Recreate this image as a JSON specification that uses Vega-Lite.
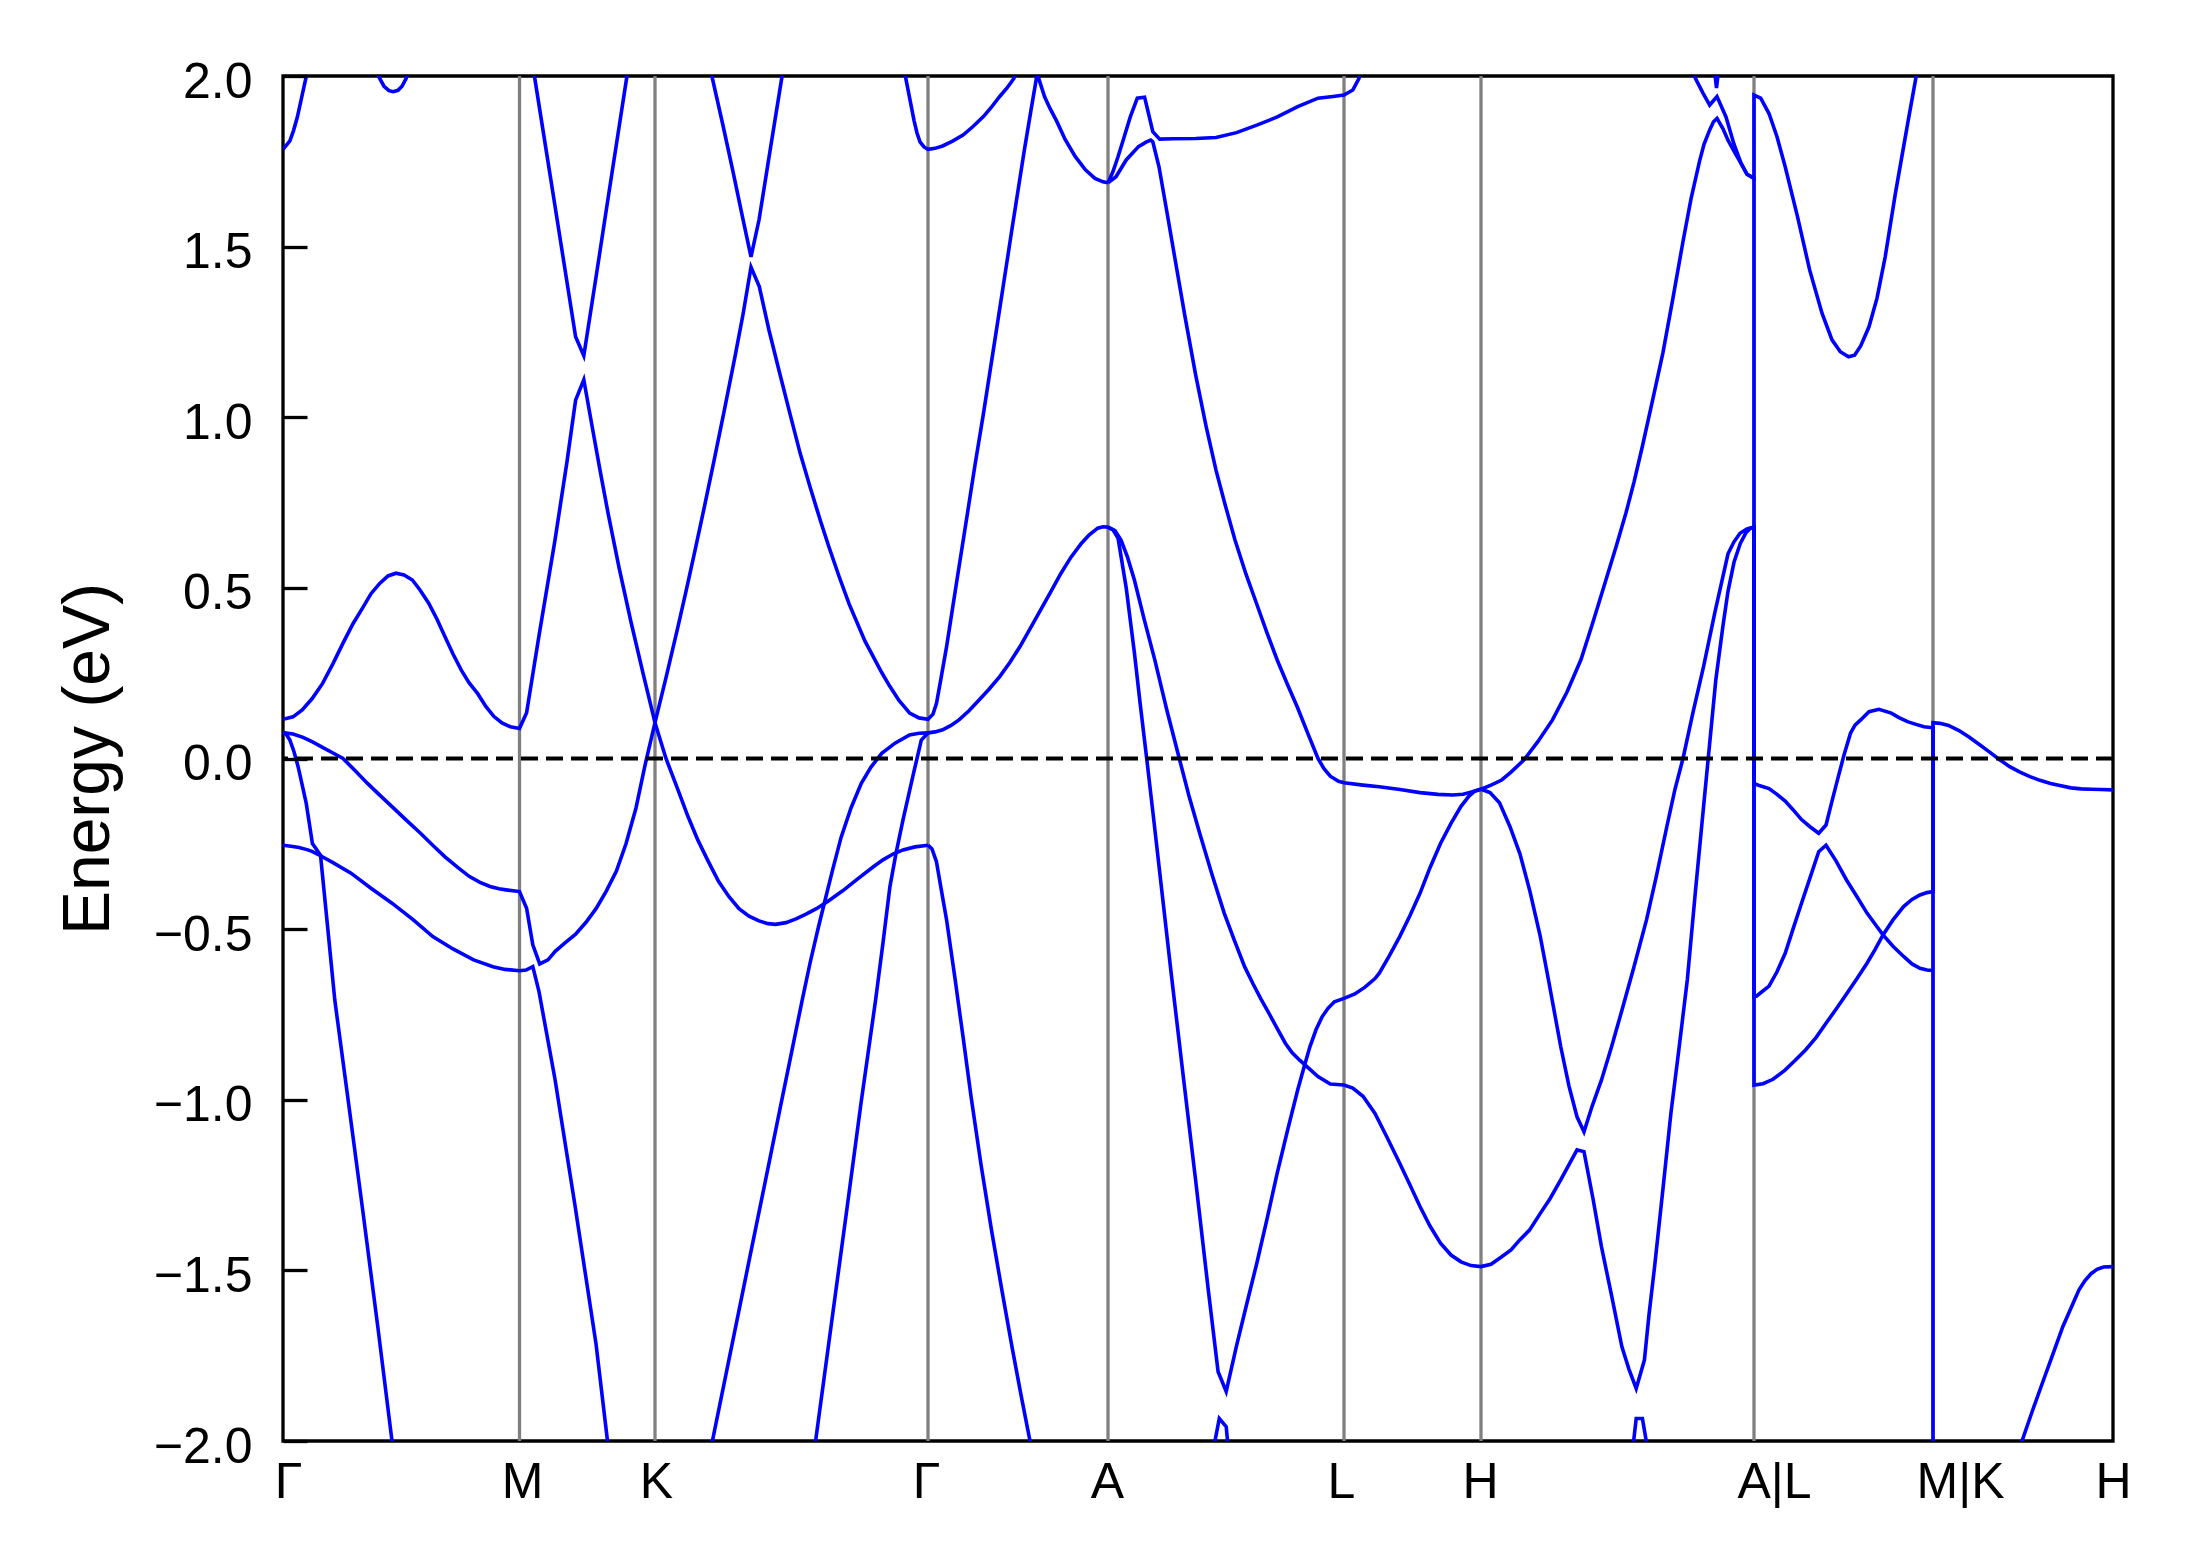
{
"$schema": "https://vega.github.io/schema/vega-lite/v6.json",
"width": 1830, "height": 1365,
"autosize": {"type": "none"},
"padding": {"left": 283, "top": 76, "right": 78, "bottom": 126},
"background": "white",
"config": {"view": {"stroke": "black", "strokeWidth": 3.3}, "font": "Liberation Sans"},
"datasets": {
"kpts": [{"k":236.5},{"k":372},{"k":645},{"k":825},{"k":1061},{"k":1198},{"k":1471},{"k":1650}],
"zero": [{"e":0}],
"bands": [
{"b":"b1","k":0,"e":1.785},{"b":"b1","k":6.9,"e":1.81},{"b":"b1","k":10.5,"e":1.84},{"b":"b1","k":14.3,"e":1.879},{"b":"b1","k":18.5,"e":1.935},{"b":"b1","k":23.2,"e":1.998},{"b":"b1","k":25,"e":2.03},
{"b":"b2","k":92,"e":2.03},{"b":"b2","k":96.7,"e":1.993},{"b":"b2","k":101,"e":1.97},{"b":"b2","k":106,"e":1.957},{"b":"b2","k":110.2,"e":1.954},{"b":"b2","k":115,"e":1.958},{"b":"b2","k":119,"e":1.97},{"b":"b2","k":123.2,"e":1.993},{"b":"b2","k":126,"e":2.03},
{"b":"b3","k":0,"e":0.115},{"b":"b3","k":10,"e":0.122},{"b":"b3","k":19.2,"e":0.142},{"b":"b3","k":29,"e":0.175},{"b":"b3","k":39.6,"e":0.22},{"b":"b3","k":50,"e":0.278},{"b":"b3","k":60,"e":0.338},{"b":"b3","k":70,"e":0.395},{"b":"b3","k":80.4,"e":0.445},{"b":"b3","k":88,"e":0.483},{"b":"b3","k":96.7,"e":0.513},{"b":"b3","k":105,"e":0.535},{"b":"b3","k":113,"e":0.543},{"b":"b3","k":121,"e":0.538},{"b":"b3","k":129.4,"e":0.523},{"b":"b3","k":137,"e":0.494},{"b":"b3","k":145.7,"e":0.455},{"b":"b3","k":154,"e":0.408},{"b":"b3","k":162,"e":0.357},{"b":"b3","k":170,"e":0.306},{"b":"b3","k":178.3,"e":0.259},{"b":"b3","k":186,"e":0.222},{"b":"b3","k":194.7,"e":0.19},{"b":"b3","k":203,"e":0.152},{"b":"b3","k":211,"e":0.123},{"b":"b3","k":219,"e":0.104},{"b":"b3","k":227.3,"e":0.093},{"b":"b3","k":236.5,"e":0.088},{"b":"b3","k":243.6,"e":0.134},{"b":"b3","k":256,"e":0.36},{"b":"b3","k":272,"e":0.64},{"b":"b3","k":284,"e":0.87},{"b":"b3","k":292.6,"e":1.05},{"b":"b3","k":300.8,"e":1.11},{"b":"b3","k":309,"e":0.975},{"b":"b3","k":317,"e":0.845},{"b":"b3","k":325,"e":0.72},{"b":"b3","k":336,"e":0.56},{"b":"b3","k":348,"e":0.4},{"b":"b3","k":360,"e":0.25},{"b":"b3","k":372,"e":0.105},{"b":"b3","k":383,"e":0.0},{"b":"b3","k":394.7,"e":-0.09},{"b":"b3","k":405,"e":-0.17},{"b":"b3","k":415,"e":-0.24},{"b":"b3","k":425,"e":-0.3},{"b":"b3","k":435.5,"e":-0.36},{"b":"b3","k":446,"e":-0.405},{"b":"b3","k":456,"e":-0.44},{"b":"b3","k":466,"e":-0.462},{"b":"b3","k":476,"e":-0.476},{"b":"b3","k":485,"e":-0.484},{"b":"b3","k":492.6,"e":-0.486},{"b":"b3","k":503,"e":-0.481},{"b":"b3","k":513,"e":-0.47},{"b":"b3","k":523,"e":-0.456},{"b":"b3","k":533.4,"e":-0.44},{"b":"b3","k":545,"e":-0.418},{"b":"b3","k":560,"e":-0.387},{"b":"b3","k":575,"e":-0.352},{"b":"b3","k":590,"e":-0.318},{"b":"b3","k":600,"e":-0.297},{"b":"b3","k":610,"e":-0.28},{"b":"b3","k":620,"e":-0.268},{"b":"b3","k":632,"e":-0.259},{"b":"b3","k":645,"e":-0.254},
{"b":"b4","k":0,"e":0.076},{"b":"b4","k":10,"e":0.072},{"b":"b4","k":20,"e":0.062},{"b":"b4","k":30,"e":0.048},{"b":"b4","k":40,"e":0.032},{"b":"b4","k":50,"e":0.016},{"b":"b4","k":60,"e":0.0},{"b":"b4","k":72,"e":-0.035},{"b":"b4","k":84.5,"e":-0.073},{"b":"b4","k":97,"e":-0.108},{"b":"b4","k":109,"e":-0.141},{"b":"b4","k":123,"e":-0.18},{"b":"b4","k":137.5,"e":-0.219},{"b":"b4","k":150,"e":-0.255},{"b":"b4","k":162,"e":-0.288},{"b":"b4","k":175,"e":-0.32},{"b":"b4","k":186.5,"e":-0.346},{"b":"b4","k":197,"e":-0.363},{"b":"b4","k":207,"e":-0.375},{"b":"b4","k":216,"e":-0.382},{"b":"b4","k":223,"e":-0.385},{"b":"b4","k":236.5,"e":-0.39},{"b":"b4","k":243.6,"e":-0.439},{"b":"b4","k":249.8,"e":-0.546},{"b":"b4","k":256.7,"e":-0.602},{"b":"b4","k":265,"e":-0.59},{"b":"b4","k":272.2,"e":-0.565},{"b":"b4","k":282,"e":-0.54},{"b":"b4","k":292.6,"e":-0.515},{"b":"b4","k":303,"e":-0.48},{"b":"b4","k":313,"e":-0.44},{"b":"b4","k":323,"e":-0.39},{"b":"b4","k":333.4,"e":-0.33},{"b":"b4","k":343,"e":-0.25},{"b":"b4","k":353,"e":-0.145},{"b":"b4","k":362,"e":-0.02},{"b":"b4","k":372,"e":0.105},{"b":"b4","k":383,"e":0.237},{"b":"b4","k":394.7,"e":0.383},{"b":"b4","k":403,"e":0.49},{"b":"b4","k":411,"e":0.596},{"b":"b4","k":421,"e":0.732},{"b":"b4","k":431.4,"e":0.878},{"b":"b4","k":441,"e":1.016},{"b":"b4","k":451.8,"e":1.175},{"b":"b4","k":460,"e":1.301},{"b":"b4","k":468,"e":1.44},{"b":"b4","k":476.3,"e":1.383},{"b":"b4","k":486,"e":1.255},{"b":"b4","k":496.7,"e":1.129},{"b":"b4","k":507,"e":1.01},{"b":"b4","k":517.1,"e":0.895},{"b":"b4","k":527,"e":0.796},{"b":"b4","k":537.5,"e":0.696},{"b":"b4","k":545.7,"e":0.622},{"b":"b4","k":556,"e":0.534},{"b":"b4","k":566.1,"e":0.453},{"b":"b4","k":582,"e":0.344},{"b":"b4","k":598.7,"e":0.252},{"b":"b4","k":606.5,"e":0.213},{"b":"b4","k":616,"e":0.17},{"b":"b4","k":626.7,"e":0.133},{"b":"b4","k":636,"e":0.119},{"b":"b4","k":645,"e":0.115},{"b":"b4","k":650,"e":0.13},{"b":"b4","k":653.5,"e":0.162},{"b":"b4","k":658,"e":0.235},{"b":"b4","k":663.6,"e":0.328},{"b":"b4","k":673.8,"e":0.52},{"b":"b4","k":684,"e":0.71},{"b":"b4","k":692,"e":0.86},{"b":"b4","k":700.4,"e":1.01},{"b":"b4","k":712.6,"e":1.24},{"b":"b4","k":720,"e":1.38},{"b":"b4","k":728.9,"e":1.55},{"b":"b4","k":741.2,"e":1.78},{"b":"b4","k":748,"e":1.9},{"b":"b4","k":753.4,"e":1.993},{"b":"b4","k":754.5,"e":2.015},{"b":"b4","k":756,"e":1.99},{"b":"b4","k":761.6,"e":1.939},{"b":"b4","k":767,"e":1.905},{"b":"b4","k":773.8,"e":1.867},{"b":"b4","k":782,"e":1.815},{"b":"b4","k":792,"e":1.765},{"b":"b4","k":802.4,"e":1.725},{"b":"b4","k":812,"e":1.7},{"b":"b4","k":820,"e":1.69},{"b":"b4","k":825,"e":1.687},
{"b":"b5","k":0,"e":-0.254},{"b":"b5","k":8,"e":-0.257},{"b":"b5","k":16,"e":-0.261},{"b":"b5","k":24,"e":-0.267},{"b":"b5","k":29,"e":-0.272},{"b":"b5","k":37.5,"e":-0.285},{"b":"b5","k":50,"e":-0.305},{"b":"b5","k":68,"e":-0.336},{"b":"b5","k":88,"e":-0.38},{"b":"b5","k":109,"e":-0.424},{"b":"b5","k":130,"e":-0.472},{"b":"b5","k":149.8,"e":-0.522},{"b":"b5","k":170,"e":-0.558},{"b":"b5","k":190.6,"e":-0.59},{"b":"b5","k":210,"e":-0.61},{"b":"b5","k":222,"e":-0.618},{"b":"b5","k":236.5,"e":-0.622},{"b":"b5","k":243,"e":-0.62},{"b":"b5","k":249.8,"e":-0.61},{"b":"b5","k":256,"e":-0.683},{"b":"b5","k":272,"e":-0.94},{"b":"b5","k":292,"e":-1.31},{"b":"b5","k":313,"e":-1.715},{"b":"b5","k":324.5,"e":-2.0},{"b":"b5","k":326,"e":-2.04},
{"b":"b6","k":0,"e":0.076},{"b":"b6","k":3,"e":0.072},{"b":"b6","k":6.9,"e":0.054},{"b":"b6","k":11,"e":0.02},{"b":"b6","k":15.1,"e":-0.024},{"b":"b6","k":19,"e":-0.075},{"b":"b6","k":23.2,"e":-0.131},{"b":"b6","k":26.3,"e":-0.19},{"b":"b6","k":29.4,"e":-0.249},{"b":"b6","k":37.5,"e":-0.283},{"b":"b6","k":44.5,"e":-0.49},{"b":"b6","k":51.8,"e":-0.708},{"b":"b6","k":66,"e":-1.02},{"b":"b6","k":80,"e":-1.33},{"b":"b6","k":95,"e":-1.67},{"b":"b6","k":109,"e":-2.0},{"b":"b6","k":111,"e":-2.05},
{"b":"b7","k":249.5,"e":2.035},{"b":"b7","k":251.8,"e":1.993},{"b":"b7","k":262,"e":1.804},{"b":"b7","k":272,"e":1.619},{"b":"b7","k":282,"e":1.433},{"b":"b7","k":292.6,"e":1.236},{"b":"b7","k":300.8,"e":1.18},{"b":"b7","k":313,"e":1.41},{"b":"b7","k":325,"e":1.64},{"b":"b7","k":335,"e":1.83},{"b":"b7","k":343.6,"e":1.993},{"b":"b7","k":345.5,"e":2.03},
{"b":"b8","k":427.5,"e":2.03},{"b":"b8","k":429.4,"e":1.993},{"b":"b8","k":440,"e":1.855},{"b":"b8","k":450,"e":1.72},{"b":"b8","k":460,"e":1.58},{"b":"b8","k":468,"e":1.47},{"b":"b8","k":476,"e":1.578},{"b":"b8","k":487,"e":1.78},{"b":"b8","k":498.7,"e":1.993},{"b":"b8","k":500.5,"e":2.03},
{"b":"b9","k":427.5,"e":-2.027},{"b":"b9","k":429.4,"e":-2.0},{"b":"b9","k":442,"e":-1.819},{"b":"b9","k":455.9,"e":-1.619},{"b":"b9","k":466,"e":-1.473},{"b":"b9","k":476.3,"e":-1.325},{"b":"b9","k":486,"e":-1.186},{"b":"b9","k":496.7,"e":-1.031},{"b":"b9","k":508,"e":-0.869},{"b":"b9","k":519.2,"e":-0.708},{"b":"b9","k":527,"e":-0.6},{"b":"b9","k":535.5,"e":-0.493},{"b":"b9","k":543.6,"e":-0.397},{"b":"b9","k":550,"e":-0.322},{"b":"b9","k":558,"e":-0.232},{"b":"b9","k":568,"e":-0.145},{"b":"b9","k":578.3,"e":-0.073},{"b":"b9","k":588,"e":-0.025},{"b":"b9","k":598.7,"e":0.015},{"b":"b9","k":612,"e":0.045},{"b":"b9","k":626.5,"e":0.069},{"b":"b9","k":636,"e":0.074},{"b":"b9","k":645,"e":0.075},
{"b":"b10","k":531,"e":-2.035},{"b":"b10","k":532.6,"e":-2.0},{"b":"b10","k":548,"e":-1.665},{"b":"b10","k":563,"e":-1.34},{"b":"b10","k":578,"e":-1.01},{"b":"b10","k":592.6,"e":-0.708},{"b":"b10","k":600,"e":-0.54},{"b":"b10","k":606.9,"e":-0.376},{"b":"b10","k":613,"e":-0.278},{"b":"b10","k":620,"e":-0.18},{"b":"b10","k":630,"e":-0.05},{"b":"b10","k":638.3,"e":0.054},{"b":"b10","k":645,"e":0.075},
{"b":"b11","k":645,"e":-0.254},{"b":"b11","k":649,"e":-0.265},{"b":"b11","k":653.4,"e":-0.302},{"b":"b11","k":658,"e":-0.38},{"b":"b11","k":663.6,"e":-0.473},{"b":"b11","k":672,"e":-0.645},{"b":"b11","k":680,"e":-0.815},{"b":"b11","k":688,"e":-0.99},{"b":"b11","k":698,"e":-1.19},{"b":"b11","k":708.5,"e":-1.382},{"b":"b11","k":719,"e":-1.56},{"b":"b11","k":729,"e":-1.724},{"b":"b11","k":738,"e":-1.865},{"b":"b11","k":747,"e":-2.0},{"b":"b11","k":749,"e":-2.03},
{"b":"b18","k":620,"e":2.04},{"b":"b18","k":622.8,"e":1.993},{"b":"b18","k":627,"e":1.93},{"b":"b18","k":631,"e":1.87},{"b":"b18","k":634,"e":1.833},{"b":"b18","k":637,"e":1.807},{"b":"b18","k":641,"e":1.792},{"b":"b18","k":645,"e":1.785},{"b":"b18","k":652,"e":1.788},{"b":"b18","k":659.6,"e":1.795},{"b":"b18","k":670,"e":1.81},{"b":"b18","k":680,"e":1.827},{"b":"b18","k":690,"e":1.852},{"b":"b18","k":700.4,"e":1.881},{"b":"b18","k":708,"e":1.907},{"b":"b18","k":716.7,"e":1.94},{"b":"b18","k":724,"e":1.965},{"b":"b18","k":731,"e":1.993},{"b":"b18","k":733,"e":2.03},
{"b":"b20","k":645,"e":0.075},{"b":"b20","k":652,"e":0.078},{"b":"b20","k":659.6,"e":0.084},{"b":"b20","k":668,"e":0.097},{"b":"b20","k":676,"e":0.113},{"b":"b20","k":686,"e":0.14},{"b":"b20","k":696.3,"e":0.172},{"b":"b20","k":706,"e":0.203},{"b":"b20","k":716.7,"e":0.24},{"b":"b20","k":727,"e":0.282},{"b":"b20","k":737,"e":0.328},{"b":"b20","k":747,"e":0.38},{"b":"b20","k":757.5,"e":0.435},{"b":"b20","k":768,"e":0.49},{"b":"b20","k":778,"e":0.543},{"b":"b20","k":788,"e":0.59},{"b":"b20","k":798.3,"e":0.63},{"b":"b20","k":806,"e":0.655},{"b":"b20","k":814.7,"e":0.675},{"b":"b20","k":820,"e":0.679},{"b":"b20","k":825,"e":0.678},
{"b":"b12","k":825,"e":0.678},{"b":"b12","k":830,"e":0.67},{"b":"b12","k":835.1,"e":0.645},{"b":"b12","k":843.2,"e":0.5},{"b":"b12","k":851.4,"e":0.31},{"b":"b12","k":857,"e":0.165},{"b":"b12","k":863.7,"e":0.0},{"b":"b12","k":870,"e":-0.16},{"b":"b12","k":876,"e":-0.315},{"b":"b12","k":888,"e":-0.625},{"b":"b12","k":900.4,"e":-0.935},{"b":"b12","k":912.6,"e":-1.235},{"b":"b12","k":925,"e":-1.55},{"b":"b12","k":935.1,"e":-1.797},{"b":"b12","k":943.2,"e":-1.855},{"b":"b12","k":953.4,"e":-1.723},{"b":"b12","k":963.6,"e":-1.6},{"b":"b12","k":973.8,"e":-1.479},{"b":"b12","k":984,"e":-1.35},{"b":"b12","k":994.2,"e":-1.215},{"b":"b12","k":1004.5,"e":-1.09},{"b":"b12","k":1014.6,"e":-0.972},{"b":"b12","k":1021,"e":-0.905},{"b":"b12","k":1026.9,"e":-0.845},{"b":"b12","k":1033,"e":-0.795},{"b":"b12","k":1039.1,"e":-0.757},{"b":"b12","k":1045,"e":-0.732},{"b":"b12","k":1051.4,"e":-0.713},{"b":"b12","k":1061,"e":-0.703},{"b":"b12","k":1071.8,"e":-0.69},{"b":"b12","k":1082,"e":-0.67},{"b":"b12","k":1092,"e":-0.645},{"b":"b12","k":1096.3,"e":-0.629},{"b":"b12","k":1106,"e":-0.58},{"b":"b12","k":1116.7,"e":-0.522},{"b":"b12","k":1127,"e":-0.46},{"b":"b12","k":1137,"e":-0.395},{"b":"b12","k":1147,"e":-0.32},{"b":"b12","k":1157.5,"e":-0.249},{"b":"b12","k":1168,"e":-0.19},{"b":"b12","k":1178,"e":-0.14},{"b":"b12","k":1186,"e":-0.11},{"b":"b12","k":1192,"e":-0.095},{"b":"b12","k":1198,"e":-0.09},{"b":"b12","k":1207,"e":-0.1},{"b":"b12","k":1216.5,"e":-0.13},{"b":"b12","k":1227,"e":-0.2},{"b":"b12","k":1237,"e":-0.28},{"b":"b12","k":1247,"e":-0.39},{"b":"b12","k":1257.3,"e":-0.522},{"b":"b12","k":1265.5,"e":-0.649},{"b":"b12","k":1277.7,"e":-0.844},{"b":"b12","k":1286,"e":-0.96},{"b":"b12","k":1294,"e":-1.05},{"b":"b12","k":1301,"e":-1.094},{"b":"b12","k":1309,"e":-1.02},{"b":"b12","k":1318.5,"e":-0.942},{"b":"b12","k":1329,"e":-0.84},{"b":"b12","k":1339,"e":-0.737},{"b":"b12","k":1351,"e":-0.61},{"b":"b12","k":1363.5,"e":-0.473},{"b":"b12","k":1373,"e":-0.35},{"b":"b12","k":1383.8,"e":-0.2},{"b":"b12","k":1392,"e":-0.09},{"b":"b12","k":1400,"e":0.0},{"b":"b12","k":1410,"e":0.135},{"b":"b12","k":1420.6,"e":0.27},{"b":"b12","k":1432,"e":0.43},{"b":"b12","k":1445,"e":0.6},{"b":"b12","k":1451,"e":0.635},{"b":"b12","k":1457,"e":0.66},{"b":"b12","k":1464,"e":0.673},{"b":"b12","k":1471,"e":0.678},{"b":"b12","k":1471,"e":-0.698},{"b":"b12","k":1473.6,"e":-0.696},{"b":"b12","k":1486,"e":-0.667},{"b":"b12","k":1494,"e":-0.625},{"b":"b12","k":1502.2,"e":-0.571},{"b":"b12","k":1510,"e":-0.5},{"b":"b12","k":1518.5,"e":-0.424},{"b":"b12","k":1527,"e":-0.35},{"b":"b12","k":1535.7,"e":-0.273},{"b":"b12","k":1543,"e":-0.254},{"b":"b12","k":1553,"e":-0.3},{"b":"b12","k":1563.5,"e":-0.356},{"b":"b12","k":1574,"e":-0.405},{"b":"b12","k":1584,"e":-0.453},{"b":"b12","k":1592,"e":-0.485},{"b":"b12","k":1600,"e":-0.517},{"b":"b12","k":1610,"e":-0.55},{"b":"b12","k":1620.6,"e":-0.58},{"b":"b12","k":1629,"e":-0.602},{"b":"b12","k":1637,"e":-0.615},{"b":"b12","k":1644,"e":-0.62},{"b":"b12","k":1650,"e":-0.621},
{"b":"b13","k":825,"e":0.678},{"b":"b13","k":832,"e":0.668},{"b":"b13","k":838,"e":0.64},{"b":"b13","k":844.5,"e":0.59},{"b":"b13","k":851.4,"e":0.523},{"b":"b13","k":861,"e":0.41},{"b":"b13","k":871.8,"e":0.289},{"b":"b13","k":884,"e":0.14},{"b":"b13","k":896.3,"e":0.0},{"b":"b13","k":906,"e":-0.11},{"b":"b13","k":916.7,"e":-0.219},{"b":"b13","k":929,"e":-0.34},{"b":"b13","k":941.2,"e":-0.453},{"b":"b13","k":951,"e":-0.53},{"b":"b13","k":961.6,"e":-0.61},{"b":"b13","k":970,"e":-0.66},{"b":"b13","k":978,"e":-0.705},{"b":"b13","k":986,"e":-0.747},{"b":"b13","k":994,"e":-0.79},{"b":"b13","k":1002.5,"e":-0.835},{"b":"b13","k":1009,"e":-0.862},{"b":"b13","k":1016.7,"e":-0.884},{"b":"b13","k":1022.8,"e":-0.9},{"b":"b13","k":1035,"e":-0.932},{"b":"b13","k":1047.3,"e":-0.954},{"b":"b13","k":1061,"e":-0.957},{"b":"b13","k":1069.8,"e":-0.966},{"b":"b13","k":1080,"e":-0.99},{"b":"b13","k":1092,"e":-1.04},{"b":"b13","k":1104,"e":-1.11},{"b":"b13","k":1116.7,"e":-1.186},{"b":"b13","k":1127,"e":-1.25},{"b":"b13","k":1137,"e":-1.313},{"b":"b13","k":1147,"e":-1.37},{"b":"b13","k":1157.5,"e":-1.42},{"b":"b13","k":1168,"e":-1.455},{"b":"b13","k":1178,"e":-1.475},{"b":"b13","k":1188,"e":-1.486},{"b":"b13","k":1198,"e":-1.489},{"b":"b13","k":1208,"e":-1.482},{"b":"b13","k":1218.7,"e":-1.46},{"b":"b13","k":1228,"e":-1.44},{"b":"b13","k":1237,"e":-1.41},{"b":"b13","k":1246.5,"e":-1.382},{"b":"b13","k":1257.3,"e":-1.333},{"b":"b13","k":1267,"e":-1.29},{"b":"b13","k":1277.7,"e":-1.235},{"b":"b13","k":1286,"e":-1.19},{"b":"b13","k":1294,"e":-1.147},{"b":"b13","k":1301,"e":-1.152},{"b":"b13","k":1310,"e":-1.29},{"b":"b13","k":1318.5,"e":-1.431},{"b":"b13","k":1329,"e":-1.58},{"b":"b13","k":1338.9,"e":-1.724},{"b":"b13","k":1346,"e":-1.79},{"b":"b13","k":1353.2,"e":-1.846},{"b":"b13","k":1361.4,"e":-1.763},{"b":"b13","k":1366,"e":-1.63},{"b":"b13","k":1371.6,"e":-1.489},{"b":"b13","k":1380,"e":-1.26},{"b":"b13","k":1387.9,"e":-1.04},{"b":"b13","k":1396,"e":-0.85},{"b":"b13","k":1404.3,"e":-0.649},{"b":"b13","k":1412.4,"e":-0.39},{"b":"b13","k":1420.6,"e":-0.14},{"b":"b13","k":1432.8,"e":0.23},{"b":"b13","k":1440,"e":0.39},{"b":"b13","k":1445,"e":0.49},{"b":"b13","k":1451,"e":0.575},{"b":"b13","k":1457.3,"e":0.63},{"b":"b13","k":1463,"e":0.662},{"b":"b13","k":1467.5,"e":0.675},{"b":"b13","k":1471,"e":0.678},{"b":"b13","k":1471,"e":-0.957},{"b":"b13","k":1480,"e":-0.953},{"b":"b13","k":1490,"e":-0.94},{"b":"b13","k":1502,"e":-0.913},{"b":"b13","k":1512,"e":-0.885},{"b":"b13","k":1522.5,"e":-0.854},{"b":"b13","k":1533,"e":-0.818},{"b":"b13","k":1543,"e":-0.776},{"b":"b13","k":1553,"e":-0.735},{"b":"b13","k":1563.5,"e":-0.69},{"b":"b13","k":1574,"e":-0.645},{"b":"b13","k":1584,"e":-0.6},{"b":"b13","k":1592,"e":-0.56},{"b":"b13","k":1600,"e":-0.517},{"b":"b13","k":1610,"e":-0.473},{"b":"b13","k":1620.6,"e":-0.434},{"b":"b13","k":1629,"e":-0.413},{"b":"b13","k":1637,"e":-0.4},{"b":"b13","k":1644,"e":-0.393},{"b":"b13","k":1650,"e":-0.39},{"b":"b13","k":1650,"e":0.105},{"b":"b13","k":1657,"e":0.103},{"b":"b13","k":1665.5,"e":0.097},{"b":"b13","k":1676,"e":0.082},{"b":"b13","k":1686,"e":0.063},{"b":"b13","k":1696,"e":0.042},{"b":"b13","k":1706,"e":0.02},{"b":"b13","k":1716,"e":-0.002},{"b":"b13","k":1726.7,"e":-0.024},{"b":"b13","k":1737,"e":-0.04},{"b":"b13","k":1747,"e":-0.053},{"b":"b13","k":1757,"e":-0.064},{"b":"b13","k":1767.5,"e":-0.073},{"b":"b13","k":1778,"e":-0.08},{"b":"b13","k":1788,"e":-0.086},{"b":"b13","k":1798,"e":-0.089},{"b":"b13","k":1808,"e":-0.09},{"b":"b13","k":1818,"e":-0.091},{"b":"b13","k":1830,"e":-0.092},
{"b":"b14","k":825,"e":1.687},{"b":"b14","k":833,"e":1.705},{"b":"b14","k":843.2,"e":1.754},{"b":"b14","k":855.5,"e":1.793},{"b":"b14","k":863,"e":1.806},{"b":"b14","k":867.7,"e":1.812},{"b":"b14","k":869.8,"e":1.807},{"b":"b14","k":876,"e":1.734},{"b":"b14","k":884,"e":1.6},{"b":"b14","k":892.2,"e":1.461},{"b":"b14","k":902,"e":1.295},{"b":"b14","k":912.6,"e":1.125},{"b":"b14","k":923,"e":0.975},{"b":"b14","k":933,"e":0.845},{"b":"b14","k":942,"e":0.745},{"b":"b14","k":952,"e":0.64},{"b":"b14","k":963,"e":0.54},{"b":"b14","k":973.8,"e":0.452},{"b":"b14","k":984,"e":0.368},{"b":"b14","k":994.3,"e":0.288},{"b":"b14","k":1004.5,"e":0.217},{"b":"b14","k":1014.7,"e":0.148},{"b":"b14","k":1025,"e":0.072},{"b":"b14","k":1035,"e":0.0},{"b":"b14","k":1041,"e":-0.03},{"b":"b14","k":1047.3,"e":-0.052},{"b":"b14","k":1055.5,"e":-0.067},{"b":"b14","k":1061,"e":-0.071},{"b":"b14","k":1080,"e":-0.078},{"b":"b14","k":1096.3,"e":-0.083},{"b":"b14","k":1117,"e":-0.091},{"b":"b14","k":1137,"e":-0.1},{"b":"b14","k":1155,"e":-0.105},{"b":"b14","k":1169.7,"e":-0.107},{"b":"b14","k":1180,"e":-0.105},{"b":"b14","k":1186,"e":-0.1},{"b":"b14","k":1192,"e":-0.095},{"b":"b14","k":1198,"e":-0.09},{"b":"b14","k":1208,"e":-0.078},{"b":"b14","k":1218.7,"e":-0.063},{"b":"b14","k":1228,"e":-0.04},{"b":"b14","k":1241,"e":-0.004},{"b":"b14","k":1255,"e":0.05},{"b":"b14","k":1269.5,"e":0.113},{"b":"b14","k":1284,"e":0.195},{"b":"b14","k":1298,"e":0.29},{"b":"b14","k":1310,"e":0.4},{"b":"b14","k":1322.6,"e":0.52},{"b":"b14","k":1333,"e":0.62},{"b":"b14","k":1343,"e":0.72},{"b":"b14","k":1351,"e":0.81},{"b":"b14","k":1359.4,"e":0.915},{"b":"b14","k":1370,"e":1.055},{"b":"b14","k":1380,"e":1.19},{"b":"b14","k":1390,"e":1.35},{"b":"b14","k":1400,"e":1.515},{"b":"b14","k":1408,"e":1.64},{"b":"b14","k":1416.5,"e":1.75},{"b":"b14","k":1421,"e":1.8},{"b":"b14","k":1426.7,"e":1.842},{"b":"b14","k":1430.5,"e":1.866},{"b":"b14","k":1434,"e":1.876},{"b":"b14","k":1440,"e":1.845},{"b":"b14","k":1445,"e":1.812},{"b":"b14","k":1451,"e":1.78},{"b":"b14","k":1457,"e":1.749},{"b":"b14","k":1464,"e":1.712},{"b":"b14","k":1471,"e":1.7},{"b":"b14","k":1471,"e":1.944},{"b":"b14","k":1477.7,"e":1.935},{"b":"b14","k":1486,"e":1.89},{"b":"b14","k":1494,"e":1.822},{"b":"b14","k":1502.2,"e":1.734},{"b":"b14","k":1514.5,"e":1.588},{"b":"b14","k":1526.7,"e":1.431},{"b":"b14","k":1539,"e":1.305},{"b":"b14","k":1549,"e":1.227},{"b":"b14","k":1557.3,"e":1.192},{"b":"b14","k":1565.5,"e":1.177},{"b":"b14","k":1571.6,"e":1.182},{"b":"b14","k":1577.7,"e":1.209},{"b":"b14","k":1586,"e":1.265},{"b":"b14","k":1594,"e":1.349},{"b":"b14","k":1602.2,"e":1.47},{"b":"b14","k":1612.4,"e":1.656},{"b":"b14","k":1624.7,"e":1.861},{"b":"b14","k":1632.8,"e":1.993},{"b":"b14","k":1635,"e":2.03},
{"b":"b15","k":825,"e":1.687},{"b":"b15","k":830,"e":1.72},{"b":"b15","k":835.1,"e":1.764},{"b":"b15","k":841,"e":1.82},{"b":"b15","k":847.3,"e":1.88},{"b":"b15","k":854.3,"e":1.935},{"b":"b15","k":861.6,"e":1.938},{"b":"b15","k":865.5,"e":1.89},{"b":"b15","k":869.8,"e":1.837},{"b":"b15","k":876.7,"e":1.815},{"b":"b15","k":890,"e":1.816},{"b":"b15","k":912.6,"e":1.817},{"b":"b15","k":933,"e":1.82},{"b":"b15","k":953.5,"e":1.834},{"b":"b15","k":973.8,"e":1.856},{"b":"b15","k":994.3,"e":1.88},{"b":"b15","k":1014.7,"e":1.91},{"b":"b15","k":1035,"e":1.935},{"b":"b15","k":1050,"e":1.94},{"b":"b15","k":1061,"e":1.944},{"b":"b15","k":1069.8,"e":1.959},{"b":"b15","k":1076,"e":1.993},{"b":"b15","k":1078,"e":2.03},
{"b":"b16","k":1408,"e":2.04},{"b":"b16","k":1412.4,"e":1.993},{"b":"b16","k":1420,"e":1.95},{"b":"b16","k":1426.7,"e":1.915},{"b":"b16","k":1434,"e":1.94},{"b":"b16","k":1443,"e":1.88},{"b":"b16","k":1451,"e":1.8},{"b":"b16","k":1458,"e":1.745},{"b":"b16","k":1464,"e":1.712},{"b":"b16","k":1471,"e":1.7},{"b":"b16","k":1471,"e":-0.073},{"b":"b16","k":1477,"e":-0.08},{"b":"b16","k":1486,"e":-0.088},{"b":"b16","k":1494,"e":-0.105},{"b":"b16","k":1502.2,"e":-0.125},{"b":"b16","k":1510,"e":-0.15},{"b":"b16","k":1518.5,"e":-0.179},{"b":"b16","k":1527,"e":-0.2},{"b":"b16","k":1535.7,"e":-0.219},{"b":"b16","k":1543,"e":-0.195},{"b":"b16","k":1549,"e":-0.125},{"b":"b16","k":1555.3,"e":-0.053},{"b":"b16","k":1561,"e":0.01},{"b":"b16","k":1567.5,"e":0.074},{"b":"b16","k":1572,"e":0.098},{"b":"b16","k":1577.7,"e":0.113},{"b":"b16","k":1586,"e":0.137},{"b":"b16","k":1596,"e":0.144},{"b":"b16","k":1608.3,"e":0.133},{"b":"b16","k":1616,"e":0.12},{"b":"b16","k":1624.5,"e":0.108},{"b":"b16","k":1633,"e":0.1},{"b":"b16","k":1641,"e":0.093},{"b":"b16","k":1650,"e":0.09},{"b":"b16","k":1650,"e":-2.3},{"b":"b16","k":1739,"e":-2.0},{"b":"b16","k":1749,"e":-1.915},{"b":"b16","k":1759.4,"e":-1.83},{"b":"b16","k":1770,"e":-1.745},{"b":"b16","k":1779.8,"e":-1.665},{"b":"b16","k":1788,"e":-1.61},{"b":"b16","k":1796,"e":-1.557},{"b":"b16","k":1802,"e":-1.53},{"b":"b16","k":1808.3,"e":-1.509},{"b":"b16","k":1814,"e":-1.497},{"b":"b16","k":1820.5,"e":-1.49},{"b":"b16","k":1830,"e":-1.489},
{"b":"b17","k":1431,"e":2.03},{"b":"b17","k":1433.5,"e":1.965},{"b":"b17","k":1436,"e":2.03},
{"b":"b21","k":1349.5,"e":-2.03},{"b":"b21","k":1353.2,"e":-1.934},{"b":"b21","k":1359.4,"e":-1.934},{"b":"b21","k":1365,"e":-2.03},
{"b":"b22","k":930,"e":-2.03},{"b":"b22","k":936.3,"e":-1.934},{"b":"b22","k":943.2,"e":-1.958},{"b":"b22","k":945.5,"e":-2.03}
]
},
"layer": [
{
"data": {"name": "kpts"},
"mark": {"type": "rule", "color": "#808080", "strokeWidth": 3.3},
"encoding": {
"x": {"field": "k", "type": "quantitative", "scale": {"domain": [0, 1830], "nice": false, "zero": false},
"axis": {"title": null, "values": [5, 239, 373, 643, 824, 1058, 1197, 1491, 1677, 1830], "labelExpr": "datum.value < 100 ? 'Γ' : datum.value < 300 ? 'M' : datum.value < 500 ? 'K' : datum.value < 700 ? 'Γ' : datum.value < 900 ? 'A' : datum.value < 1100 ? 'L' : datum.value < 1300 ? 'H' : datum.value < 1550 ? 'A|L' : datum.value < 1750 ? 'M|K' : 'H'", "grid": false, "domain": false, "ticks": false, "labelFontSize": 50, "labelFont": "Liberation Sans", "labelColor": "black", "labelPadding": 16, "labelFlush": false, "labelOverlap": false, "labelBound": false}}
}
},
{
"data": {"name": "bands"},
"mark": {"type": "line", "color": "#0000ff", "strokeWidth": 3.6, "clip": true},
"encoding": {
"x": {"field": "k", "type": "quantitative", "scale": {"domain": [0, 1830], "nice": false, "zero": false},
"axis": {"title": null, "values": [5, 239, 373, 643, 824, 1058, 1197, 1491, 1677, 1830], "labelExpr": "datum.value < 100 ? 'Γ' : datum.value < 300 ? 'M' : datum.value < 500 ? 'K' : datum.value < 700 ? 'Γ' : datum.value < 900 ? 'A' : datum.value < 1100 ? 'L' : datum.value < 1300 ? 'H' : datum.value < 1550 ? 'A|L' : datum.value < 1750 ? 'M|K' : 'H'", "grid": false, "domain": false, "ticks": false, "labelFontSize": 50, "labelFont": "Liberation Sans", "labelColor": "black", "labelPadding": 16, "labelFlush": false, "labelOverlap": false, "labelBound": false}},
"y": {"field": "e", "type": "quantitative", "scale": {"domain": [-2, 2], "nice": false, "zero": false},
"axis": {"title": "Energy (eV)", "values": [-2, -1.5, -1, -0.5, 0, 0.5, 1, 1.5, 2], "format": ".1f", "grid": false, "domain": false, "ticks": true, "tickSize": -24, "tickWidth": 3.3, "tickColor": "black", "labelFontSize": 50, "labelFont": "Liberation Sans", "labelColor": "black", "labelPadding": 55, "labelOffset": 6, "labelFlush": false, "labelOverlap": false, "labelBound": false, "titleFontSize": 66, "titleFont": "Liberation Sans", "titleFontWeight": "normal", "titleColor": "black", "titleX": -175, "titleY": 682.5, "titleAngle": -90, "titleAlign": "center", "titleBaseline": "alphabetic", "zindex": 1}},
"detail": {"field": "b", "type": "nominal"},
"order": {"value": null}
}
},
{
"data": {"name": "zero"},
"mark": {"type": "rule", "color": "black", "strokeWidth": 4, "strokeDash": [17, 8]},
"encoding": {
"y": {"field": "e", "type": "quantitative", "scale": {"domain": [-2, 2], "nice": false, "zero": false},
"axis": {"title": "Energy (eV)", "values": [-2, -1.5, -1, -0.5, 0, 0.5, 1, 1.5, 2], "format": ".1f", "grid": false, "domain": false, "ticks": true, "tickSize": -24, "tickWidth": 3.3, "tickColor": "black", "labelFontSize": 50, "labelFont": "Liberation Sans", "labelColor": "black", "labelPadding": 55, "labelOffset": 6, "labelFlush": false, "labelOverlap": false, "labelBound": false, "titleFontSize": 66, "titleFont": "Liberation Sans", "titleFontWeight": "normal", "titleColor": "black", "titleX": -175, "titleY": 682.5, "titleAngle": -90, "titleAlign": "center", "titleBaseline": "alphabetic", "zindex": 1}}
}
}
]
}
